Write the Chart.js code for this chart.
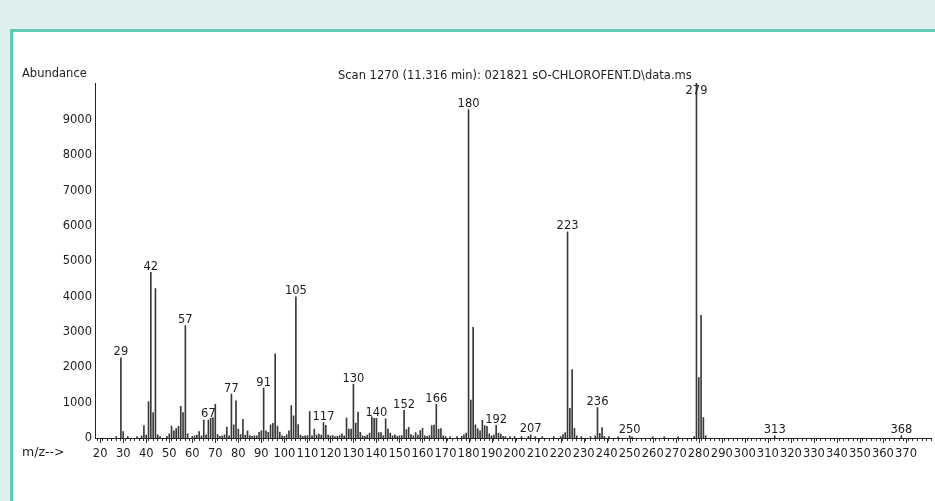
<!DOCTYPE html>
<html>
<head>
<meta charset="utf-8">
<script src="https://cdn.jsdelivr.net/npm/chart.js@4.4.1/dist/chart.umd.min.js"></script>
<style>
html, body { margin: 0; padding: 0; }
body { width: 935px; height: 501px; background: #ddf0ee; position: relative; overflow: hidden; }
#paper { position: absolute; left: 10px; top: 29px; width: 940px; height: 480px; background: #fff;
         border-top: 3px solid #62c8b8; border-left: 3px solid #62c8b8; }
#wrap { position: absolute; left: 0; top: 0; width: 935px; height: 501px; }
</style>
</head>
<body>
<div id="paper"></div>
<div id="wrap"><canvas id="ms" width="935" height="501"></canvas></div>
<script>
// m/z of each peak and its abundance
const mzValues = [
  27, 29, 30, 32, 36, 38, 39, 40, 41, 42, 43, 44, 45, 46, 49,
  50, 51, 52, 53, 54, 55, 56, 57, 58, 60, 61, 62, 63, 64, 65, 66, 67, 68, 69,
  70, 71, 72, 73, 74, 75, 76, 77, 78, 79, 80, 81, 82, 83, 84, 85, 86, 87, 88, 89,
  90, 91, 92, 93, 94, 95, 96, 97, 98, 99, 100, 101, 102, 103, 104, 105, 106, 107, 108, 109,
  110, 111, 112, 113, 114, 115, 116, 117, 118, 119, 120, 121, 122, 123, 124, 125, 126, 127, 128, 129,
  130, 131, 132, 133, 134, 135, 136, 137, 138, 139, 140, 141, 142, 143, 144, 145, 146, 147, 148, 149,
  150, 151, 152, 153, 154, 155, 156, 157, 158, 159, 160, 161, 162, 163, 164, 165, 166, 167, 168, 169,
  170, 172, 175, 177, 178, 179, 180, 181, 182, 183, 184, 185, 186, 187, 188, 189,
  190, 191, 192, 193, 194, 195, 196, 198, 200, 203, 206, 207, 209, 212, 217,
  220, 221, 222, 223, 224, 225, 226, 227, 229, 233, 235, 236, 237, 238, 239, 241, 245,
  250, 251, 260, 265, 271, 278, 279, 280, 281, 282, 283, 313, 368
];
const abundances = [
  40, 2270, 180, 40, 40, 60, 350, 80, 1030, 4690, 720, 4230, 90, 40, 50,
  120, 340, 200, 270, 330, 900, 720, 3180, 120, 50, 60, 80, 180, 60, 510, 90, 510, 560, 575,
  950, 100, 50, 60, 90, 310, 60, 1240, 370, 1050, 250, 100, 530, 80, 200, 70, 50, 60, 60, 160,
  200, 1410, 200, 160, 370, 415, 2380, 340, 170, 60, 50, 90, 200, 915, 625, 4000, 380, 80, 50, 60,
  70, 745, 60, 250, 80, 110, 80, 434, 360, 80, 60, 70, 40, 50, 70, 120, 60, 566, 255, 250,
  1520, 425, 736, 160, 60, 50, 80, 140, 600, 560, 560, 150, 150, 70, 540, 255, 140, 60, 90, 50,
  60, 70, 783, 240, 300, 100, 60, 150, 80, 208, 274, 60, 50, 70, 350, 368, 953, 250, 270, 60,
  40, 40, 40, 50, 90, 140, 9300, 1075, 3130, 370, 260, 200, 500, 350, 330, 120,
  60, 80, 358, 140, 110, 50, 40, 40, 40, 40, 50, 90, 40, 40, 40,
  40, 100, 150, 5840, 840, 1940, 274, 60, 40, 40, 60, 858, 130, 292, 50, 40, 30,
  60, 30, 30, 30, 30, 40, 10040, 1710, 3470, 575, 60, 60, 70
];
const labeledMz = [29, 42, 57, 67, 77, 91, 105, 117, 130, 140, 152, 166, 180, 192, 207, 223, 236, 250, 279, 313, 368];
const yTickValues = [0, 1000, 2000, 3000, 4000, 5000, 6000, 7000, 8000, 9000];
const xTickLabels = [20, 30, 40, 50, 60, 70, 80, 90, 100, 110, 120, 130, 140, 150, 160, 170, 180,
  190, 200, 210, 220, 230, 240, 250, 260, 270, 280, 290, 300, 310, 320, 330, 340, 350, 360, 370];
const titleText = 'Scan 1270 (11.316 min): 021821 sO-CHLOROFENT.D\\data.ms';

const FONT = 'DejaVu Sans';
const INK = '#1e1e1e';

const peaks = mzValues.map((m, i) => ({ x: m, y: abundances[i] }));

const extras = {
  id: 'extras',
  afterDatasetsDraw(chart) {
    const { ctx, chartArea, scales: { x, y } } = chart;
    ctx.save();
    // longer ticks at the labelled m/z
    ctx.strokeStyle = '#333';
    ctx.lineWidth = 1;
    xTickLabels.forEach(v => {
      const px = Math.round(x.getPixelForValue(v)) + 0.5;
      ctx.beginPath();
      ctx.moveTo(px, chartArea.bottom);
      ctx.lineTo(px, chartArea.bottom + 5);
      ctx.stroke();
    });
    // peak labels
    ctx.fillStyle = INK;
    ctx.font = '11.5px "' + FONT + '"';
    ctx.textAlign = 'center';
    ctx.textBaseline = 'alphabetic';
    labeledMz.forEach(m => {
      const a = abundances[mzValues.indexOf(m)];
      const px = x.getPixelForValue(m);
      const top = y.getPixelForValue(a);
      const base = Math.max(top - 2.5, chartArea.top + 11);
      ctx.fillText(String(m), px, base);
    });
    // header and axis captions
    ctx.textAlign = 'left';
    ctx.textBaseline = 'middle';
    ctx.font = '11.5px "' + FONT + '"';
    ctx.fillText('Abundance', 22, 74);
    ctx.fillText(titleText, 338, 76);
    ctx.font = '12.5px "' + FONT + '"';
    ctx.fillText('m/z-->', 22, 453);
    ctx.restore();
  }
};

new Chart(document.getElementById('ms'), {
  type: 'bar',
  data: {
    datasets: [{
      data: peaks,
      backgroundColor: '#3a3a3a',
      borderWidth: 0,
      barThickness: 1,
      grouped: false
    }]
  },
  options: {
    responsive: false,
    animation: false,
    layout: { padding: { left: 0, right: 0, top: 83, bottom: 0 } },
    plugins: { legend: { display: false }, tooltip: { enabled: false }, title: { display: false } },
    scales: {
      x: {
        type: 'linear',
        min: 17.75,
        max: 381.1,
        offset: false,
        afterBuildTicks: s => {
          const t = [];
          for (let v = 18; v <= 380; v += 2) t.push({ value: v });
          s.ticks = t;
        },
        afterFit: s => { s.height = 63; },
        grid: { display: true, drawOnChartArea: false, drawTicks: true, tickLength: 3, color: '#333' },
        border: { display: true, color: '#222', width: 1 },
        ticks: {
          autoSkip: false,
          maxRotation: 0,
          padding: 6,
          color: INK,
          font: { family: FONT, size: 11.5 },
          callback: v => xTickLabels.includes(v) ? String(v) : ''
        }
      },
      y: {
        min: 0,
        max: 10050,
        afterBuildTicks: s => { s.ticks = yTickValues.map(v => ({ value: v })); },
        afterFit: s => { s.width = 95; },
        grid: { display: false, drawTicks: false },
        border: { display: true, color: '#222', width: 1 },
        ticks: {
          padding: 3,
          color: INK,
          font: { family: FONT, size: 11.5 },
          callback: v => String(v)
        }
      }
    }
  },
  plugins: [extras]
});
</script>
</body>
</html>
